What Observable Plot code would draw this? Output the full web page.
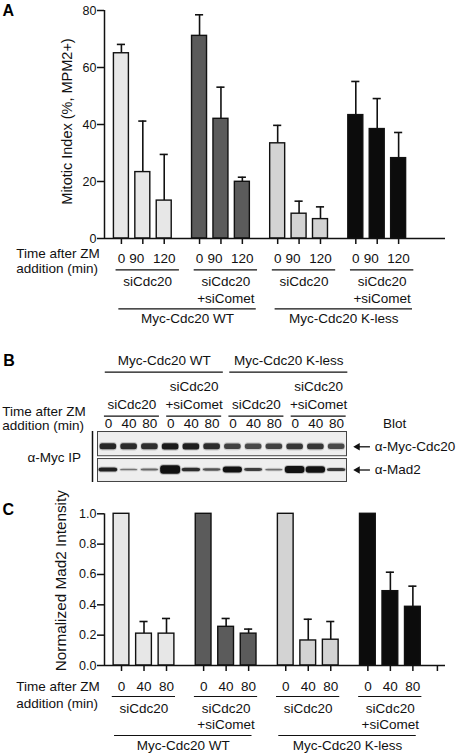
<!DOCTYPE html>
<html>
<head>
<meta charset="utf-8">
<script src="https://cdn.jsdelivr.net/npm/d3@7"></script>
<script src="https://cdn.jsdelivr.net/npm/@observablehq/plot@0.6"></script>
<style>
  html, body { margin: 0; padding: 0; background: #fff; }
  #fig { position: relative; width: 456px; height: 753px; overflow: hidden; background: #fff; }
  #fig > svg { position: absolute; left: 0; }
</style>
</head>
<body>
<div id="fig"></div>
<script>
// ---------------- data ----------------
const constructs = ["Myc-Cdc20 WT", "Myc-Cdc20 K-less"];
const treatments = ["siCdc20", "siCdc20\n+siComet", "siCdc20", "siCdc20\n+siComet"];
const timeAxisLabel = "Time after ZM\naddition (min)";

// Panel A
const timesA = ["0", "90", "120"];
const mitoticIndex = [65.0, 23.3, 13.3, 71.1, 42.0, 19.9, 33.4, 8.7, 6.8, 43.3, 38.4, 28.2];
const mitoticIndexErr = [3.1, 17.9, 16.2, 7.4, 11.1, 1.6, 6.3, 4.4, 4.3, 11.8, 10.7, 9.0];
const yTicksA = [0, 20, 40, 60, 80];

// Panel B (blot band signal, 0-1)
const timesBC = ["0", "40", "80"];
const blotRows = ["α-Myc-Cdc20", "α-Mad2"];
const mycBand = [0.88, 0.86, 0.84, 0.95, 0.93, 0.86, 0.74, 0.7, 0.74, 0.8, 0.8, 0.7];
const mad2Band = [0.62, 0.2, 0.26, 1.0, 0.55, 0.36, 0.78, 0.46, 0.22, 0.9, 0.84, 0.48];

// Panel C
const mad2Norm = [1.0, 0.21, 0.21, 1.0, 0.255, 0.21, 1.0, 0.165, 0.17, 1.0, 0.49, 0.387];
const mad2NormErr = [0, 0.08, 0.10, 0, 0.055, 0.03, 0, 0.14, 0.12, 0, 0.125, 0.136];
const yTicksC = [0, 0.2, 0.4, 0.6, 0.8, 1.0];

// ---------------- style ----------------
const FONT = '"Liberation Sans", Arial, Helvetica, sans-serif';
const INK = "#111";
const FILLS = ["#e7e7e7", "#5b5b5b", "#d3d3d3", "#0c0c0c"];
const GROUP_STEP = 3.65;
const BAR_HALF = 0.35;
const fig = document.getElementById("fig");

function barPanel(c) {
  const rows = c.values.map((v, k) => {
    const g = Math.floor(k / 3), i = k % 3;
    return {g, i, value: v, err: c.errs[k], time: c.times[i], pos: g * GROUP_STEP + i};
  });
  const withErr = rows.filter(d => d.err > 0);
  const groupsT = treatments.map((t, g) => ({t, a: g * GROUP_STEP + c.subLine[0], b: g * GROUP_STEP + c.subLine[1]}));
  const cons = constructs.map((t, k) => ({t, a: k * 2 * GROUP_STEP + c.bigLine[0], b: k * 2 * GROUP_STEP + c.bigLine[1]}));
  const svg = Plot.plot({
    width: 456, height: c.height,
    marginTop: c.marginTop, marginBottom: c.marginBottom, marginLeft: 104, marginRight: 11,
    x: {domain: c.xDomain},
    y: {domain: c.yDomain},
    style: {fontFamily: FONT, fontSize: "13.5px", color: INK, background: "transparent", overflow: "visible"},
    marks: [
      Plot.ruleX(withErr, {x: "pos", y1: "value", y2: d => d.value + d.err, stroke: INK, strokeWidth: 1.6}),
      Plot.ruleY(withErr, {y: d => d.value + d.err, x1: d => d.pos - c.cap, x2: d => d.pos + c.cap, stroke: INK, strokeWidth: 1.6}),
      Plot.rectY(rows, {x1: d => d.pos - BAR_HALF, x2: d => d.pos + BAR_HALF, y1: 0, y2: "value",
        fill: d => FILLS[d.g], stroke: INK, strokeWidth: 1.4}),
      Plot.ruleY([0], {stroke: INK, strokeWidth: 1.5}),
      Plot.ruleX([c.xDomain[0]], {stroke: INK, strokeWidth: 1.5}),
      Plot.axisY({ticks: c.yTicks, tickFormat: c.yFormat, tickSize: 7, tickPadding: 1,
        fontSize: 12.5, strokeWidth: 1.5, label: null}),
      Plot.axisX({ticks: [...rows.map(d => d.pos), ...c.extraTicks], tickSize: 6,
        tickFormat: () => "", strokeWidth: 1.5, label: null}),
      Plot.text(rows, {x: d => d.pos + c.timeShift[d.i], text: "time", frameAnchor: "bottom",
        lineAnchor: "bottom", dy: c.timeDy, fontSize: 13.5, fill: INK}),
      Plot.ruleY(groupsT, {y: () => 0, x1: "a", x2: "b", dy: c.subLineDy, stroke: INK, strokeWidth: 1.2}),
      Plot.text(groupsT, {x: d => (d.a + d.b) / 2, text: "t", frameAnchor: "bottom",
        lineAnchor: "top", dy: c.treatDy, lineHeight: c.treatLH, fontSize: 13.5, fill: INK}),
      Plot.ruleY(cons, {y: () => 0, x1: "a", x2: "b", dy: c.bigLineDy, stroke: INK, strokeWidth: 1.2}),
      Plot.text(cons, {x: d => (d.a + d.b) / 2, text: "t", frameAnchor: "bottom",
        lineAnchor: "bottom", dy: c.consDy, fontSize: 13.5, fill: INK}),
      Plot.text([timeAxisLabel], {frameAnchor: "bottom-left", textAnchor: "start", lineAnchor: "bottom",
        dx: 15.7 - 104, dy: c.zmDy, lineHeight: c.zmLH, fontSize: 13.5, fill: INK}),
      Plot.text([c.yLabel], {frameAnchor: "left", rotate: -90, textAnchor: "middle", lineAnchor: "middle",
        dx: c.yLabelDx, dy: c.yLabelDy, fontSize: c.yLabelSize, fill: INK}),
      Plot.text([c.letter], {frameAnchor: "top-left", textAnchor: "start", lineAnchor: "bottom",
        dx: 2 - 104, dy: c.letterDy, fontSize: 16, fontWeight: "bold", fill: "#000"})
    ]
  });
  svg.style.top = c.top + "px";
  return svg;
}

function blotPanel() {
  const U = 1 / 25.5;            // y units per pixel
  const ROWC = [0.6, 1.51];      // band row centres
  const lanes = mycBand.map((m, k) => ({lane: k, time: timesBC[k % 3], myc: m, mad2: mad2Band[k]}));
  const mycH = s => 3.4 + 3 * s;
  const madH = s => 1.4 + 7.2 * s * s;
  const groupsT = treatments.map((t, g) => ({t, a: g * 3 - 0.19, b: g * 3 + 2.46}));
  const cons = constructs.map((t, k) => ({t, a: k * 6 - 0.15, b: k * 6 + 5.54}));
  const boxes = [[0.02, 0.97], [1.08, 1.98]];
  const svg = Plot.plot({
    width: 456, height: 150,
    marginTop: 91, marginBottom: 8, marginLeft: 97.5, marginRight: 109.5,
    x: {domain: [-0.5, 11.5], axis: null},
    y: {domain: [0, 2], reverse: true, axis: null},
    style: {fontFamily: FONT, fontSize: "13.5px", color: INK, background: "transparent", overflow: "visible"},
    marks: [
      Plot.rect(boxes, {x1: -0.5, x2: 11.5, y1: d => d[0], y2: d => d[1], fill: "#eeeeee", stroke: "#444", strokeWidth: 1}),
      // Myc-Cdc20 bands
      Plot.rect(lanes, {x1: d => d.lane - 0.43, x2: d => d.lane + 0.43,
        y1: d => ROWC[0] - (mycH(d.myc) / 2 + 1.2) * U, y2: d => ROWC[0] + (mycH(d.myc) / 2 + 1.2) * U,
        rx: 3.5, fill: INK, fillOpacity: d => 0.22 * d.myc}),
      Plot.rect(lanes, {x1: d => d.lane - 0.4, x2: d => d.lane + 0.4,
        y1: d => ROWC[0] - mycH(d.myc) / 2 * U, y2: d => ROWC[0] + mycH(d.myc) / 2 * U,
        rx: 2.5, fill: INK, fillOpacity: d => d.myc}),
      // Mad2 bands
      Plot.rect(lanes, {x1: d => d.lane - 0.44 - 0.08 * d.mad2, x2: d => d.lane + 0.44 + 0.08 * d.mad2,
        y1: d => ROWC[1] - (madH(d.mad2) / 2 + 1) * U, y2: d => ROWC[1] + (madH(d.mad2) / 2 + 1) * U,
        rx: 4, fill: INK, fillOpacity: d => 0.2 * (0.3 + d.mad2)}),
      Plot.rect(lanes, {x1: d => d.lane - 0.4 - 0.08 * d.mad2, x2: d => d.lane + 0.4 + 0.08 * d.mad2,
        y1: d => ROWC[1] - madH(d.mad2) / 2 * U, y2: d => ROWC[1] + madH(d.mad2) / 2 * U,
        rx: 3, fill: INK, fillOpacity: d => Math.min(1, 0.3 + d.mad2)}),
      // IP bracket
      Plot.ruleX([-0.765], {y1: 0, y2: 2, stroke: INK, strokeWidth: 1.5}),
      // arrows and blot names
      Plot.ruleY(ROWC, {y: d => d, x1: 12.0, x2: 12.63, stroke: INK, strokeWidth: 1.3}),
      Plot.dot(ROWC, {x: 12.01, y: d => d, symbol: "triangle", rotate: -90, r: 2.8, fill: INK, stroke: "none"}),
      Plot.text(blotRows, {x: 12.84, y: (d, i) => ROWC[i], textAnchor: "start", lineAnchor: "middle", fontSize: 13.5, fill: INK}),
      Plot.text(["Blot"], {x: 13.79, frameAnchor: "top", lineAnchor: "bottom", dy: -4, fontSize: 13.5, fill: INK}),
      // lane labels and hierarchy
      Plot.text(lanes, {x: "lane", text: "time", frameAnchor: "top", lineAnchor: "bottom", dy: -4, fontSize: 13.5, fill: INK}),
      Plot.ruleY(groupsT, {y: () => 0, x1: "a", x2: "b", dy: -15.3, stroke: INK, strokeWidth: 1.2}),
      Plot.text(groupsT, {x: d => (d.a + d.b) / 2, text: "t", frameAnchor: "top", lineAnchor: "bottom",
        dy: -22.7, lineHeight: 1.3, fontSize: 13.5, fill: INK}),
      Plot.ruleY(cons, {y: () => 0, x1: "a", x2: "b", dy: -59.3, stroke: INK, strokeWidth: 1.2}),
      Plot.text(cons, {x: d => (d.a + d.b) / 2, text: "t", frameAnchor: "top", lineAnchor: "bottom",
        dy: -66.7, fontSize: 13.5, fill: INK}),
      Plot.text([timeAxisLabel], {frameAnchor: "top-left", textAnchor: "start", lineAnchor: "bottom",
        dx: 1.7 - 97.5, dy: -1.5, lineHeight: 1.074, fontSize: 13.5, fill: INK}),
      Plot.text(["α-Myc IP"], {frameAnchor: "left", textAnchor: "start", lineAnchor: "middle",
        dx: 27 - 97.5, dy: 0.5, fontSize: 13.5, fill: INK}),
      Plot.text(["B"], {frameAnchor: "top-left", textAnchor: "start", lineAnchor: "bottom",
        dx: 2.7 - 97.5, dy: -66, fontSize: 16, fontWeight: "bold", fill: "#000"})
    ]
  });
  svg.style.top = "340px";
  return svg;
}

fig.appendChild(barPanel({
  top: 0, height: 330, marginTop: 10, marginBottom: 92,
  xDomain: [-0.79, 15.14], yDomain: [0, 80], yTicks: yTicksA, yFormat: d3.format("d"),
  values: mitoticIndex, errs: mitoticIndexErr, times: timesA, timeShift: [0, -0.28, 0],
  cap: 0.19, extraTicks: [],
  yLabel: "Mitotic Index (%, MPM2+)", yLabelSize: 14.5, yLabelDx: -37.6, yLabelDy: -3,
  letter: "A", letterDy: 5,
  timeDy: 24.3, zmDy: 34.5, zmLH: 1.126,
  subLine: [-0.25, 2.71], subLineDy: 31.3, treatDy: 36.1, treatLH: 1.237,
  bigLine: [-0.12, 6.3], bigLineDy: 70.3, consDy: 84.3
}));

fig.appendChild(blotPanel());

fig.appendChild(barPanel({
  top: 495, height: 258, marginTop: 18.3, marginBottom: 88,
  xDomain: [-0.756, 14.4], yDomain: [0, 1], yTicks: yTicksC, yFormat: d3.format(".1f"),
  values: mad2Norm, errs: mad2NormErr, times: timesBC, timeShift: [0, 0, 0],
  cap: 0.18, extraTicks: [14.04],
  yLabel: "Normalized Mad2 Intensity", yLabelSize: 15.3, yLabelDx: -43.9, yLabelDy: -9,
  letter: "C", letterDy: 0.7,
  timeDy: 25, zmDy: 42.3, zmLH: 1.244,
  subLine: [-0.41, 2.4], subLineDy: 31, treatDy: 36.6, treatLH: 1.156,
  bigLine: [-0.31, 5.8], bigLineDy: 70, consDy: 84.3
}));
</script>
</body>
</html>
